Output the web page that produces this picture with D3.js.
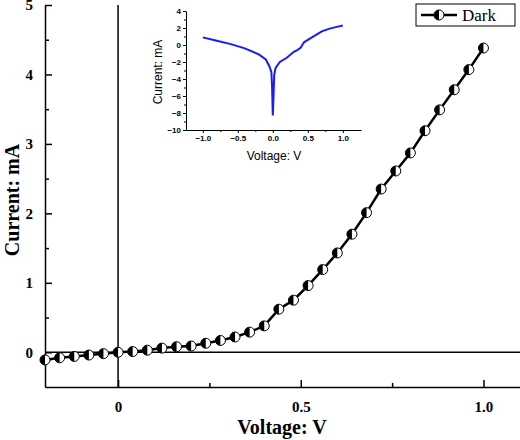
<!DOCTYPE html><html><head><meta charset="utf-8"><script src="https://cdn.jsdelivr.net/npm/d3@7"></script>
<style>body{margin:0;background:#fff}</style></head><body><svg id="c" width="520" height="440"></svg><script>
const darkV=[-0.2,-0.16,-0.12,-0.08,-0.04,0,0.04,0.08,0.12,0.16,0.2,0.24,0.28,0.32,0.36,0.4,0.44,0.48,0.52,0.56,0.6,0.64,0.68,0.72,0.76,0.8,0.84,0.88,0.92,0.96,1.0];
const darkI=[-0.11,-0.08,-0.06,-0.04,-0.02,0,0.01,0.03,0.06,0.08,0.09,0.13,0.17,0.22,0.29,0.38,0.62,0.75,0.96,1.19,1.43,1.70,2.01,2.35,2.61,2.87,3.19,3.49,3.78,4.07,4.38];
const insetV=[-1,-0.8,-0.6,-0.4,-0.2,-0.1,-0.05,-0.02,-0.01,0,0.01,0.02,0.04,0.1,0.2,0.3,0.35,0.4,0.42,0.45,0.5,0.6,0.7,0.8,0.9,1.0];
const insetI=[0.9,0.5,0.1,-0.4,-1.1,-1.7,-2.5,-3.2,-5,-8.3,-6,-3.5,-2.7,-2,-1.5,-0.8,-0.6,-0.3,0,0.35,0.6,1.1,1.6,1.9,2.1,2.3];
const xTicks=[0,0.5,1.0], xTickLabels=["0","0.5","1.0"];
const yTicks=[0,1,2,3,4,5];
const svg=d3.select("#c");
const tf="Times New Roman, Liberation Serif, serif";
const x=d3.scaleLinear().domain([-0.2,1.1]).range([45,520]);
const y=d3.scaleLinear().domain([-0.5,5]).range([387,5]);
const g=svg.append("g");
g.append("line").attr("x1",x(0)).attr("x2",x(0)).attr("y1",y(5)).attr("y2",y(-0.5)).attr("stroke","#000").attr("stroke-width",1.5);
g.append("line").attr("x1",45).attr("x2",520).attr("y1",y(0)).attr("y2",y(0)).attr("stroke","#000").attr("stroke-width",1.5);
g.append("g").attr("transform","translate(0,387)").call(d3.axisBottom(x).tickValues(xTicks).tickFormat((d,i)=>xTickLabels[i]).tickSizeInner(-7).tickSizeOuter(0).tickPadding(14));
g.append("g").attr("transform","translate(0,387)").call(d3.axisBottom(x).tickValues([0.25,0.75]).tickFormat("").tickSizeInner(-4).tickSizeOuter(0)).select(".domain").remove();
g.append("g").attr("transform","translate(45,0)").call(d3.axisLeft(y).tickValues(yTicks).tickFormat(d3.format("d")).tickSizeInner(-7).tickSizeOuter(0).tickPadding(12));
g.append("g").attr("transform","translate(45,0)").call(d3.axisLeft(y).tickValues([0.5,1.5,2.5,3.5,4.5]).tickFormat("").tickSizeInner(-4).tickSizeOuter(0)).select(".domain").remove();
g.selectAll(".domain,.tick line").attr("stroke","#000").attr("stroke-width",1.5);
g.selectAll(".tick text").attr("font-family",tf).attr("font-weight","bold").attr("font-size",15).attr("fill","#000");
svg.append("text").attr("x",282).attr("y",434).attr("text-anchor","middle").attr("font-family",tf).attr("font-weight","bold").attr("font-size",20).text("Voltage: V");
svg.append("text").attr("transform","translate(19,200) rotate(-90)").attr("text-anchor","middle").attr("font-family",tf).attr("font-weight","bold").attr("font-size",20).text("Current: mA");
const line=d3.line().x((d,i)=>x(darkV[i])).y(d=>y(d));
svg.append("path").datum(darkI).attr("d",line).attr("fill","none").attr("stroke","#000").attr("stroke-width",2.5);
function marker(sel,cx,cy){
  const r=5;
  sel.append("circle").attr("cx",cx).attr("cy",cy).attr("r",r).attr("fill","#fff").attr("stroke","#000").attr("stroke-width",1);
  sel.append("path").attr("d",`M${cx},${cy-r}A${r},${r} 0 0 0 ${cx},${cy+r}Z`).attr("fill","#000");
}
const mg=svg.append("g");
darkI.forEach((d,i)=>marker(mg,x(darkV[i]),y(d)));
svg.append("rect").attr("x",416).attr("y",4).attr("width",99).attr("height",22).attr("fill","#fff").attr("stroke","#000").attr("stroke-width",1);
svg.append("line").attr("x1",421).attr("x2",457).attr("y1",15).attr("y2",15).attr("stroke","#000").attr("stroke-width",2.5);
marker(svg,439,15);
svg.append("text").attr("x",462).attr("y",21).attr("font-family",tf).attr("font-size",17).text("Dark");
const ix=d3.scaleLinear().domain([-1.24,1.26]).range([186,361]);
const iy=d3.scaleLinear().domain([-10,4]).range([130,11]);
const ig=svg.append("g");
ig.append("g").attr("transform","translate(0,130)").call(d3.axisBottom(ix).tickValues([-1,-0.5,0,0.5,1]).tickFormat(d3.format(".1f")).tickSize(3).tickSizeOuter(0).tickPadding(2));
ig.append("g").attr("transform","translate(0,130)").call(d3.axisBottom(ix).tickValues([-0.75,-0.25,0.25,0.75]).tickFormat("").tickSize(2).tickSizeOuter(0)).select(".domain").remove();
ig.append("g").attr("transform","translate(186,0)").call(d3.axisLeft(iy).tickValues([-10,-8,-6,-4,-2,0,2,4]).tickSize(3).tickSizeOuter(0).tickPadding(2));
ig.append("g").attr("transform","translate(186,0)").call(d3.axisLeft(iy).tickValues([-9,-7,-5,-3,-1,1,3]).tickFormat("").tickSize(2).tickSizeOuter(0)).select(".domain").remove();
ig.selectAll(".domain,.tick line").attr("stroke","#000").attr("stroke-width",1);
ig.selectAll(".tick text").attr("font-family","Liberation Sans, Arial, sans-serif").attr("font-weight","bold").attr("font-size",8).attr("fill","#000");
ig.append("path").datum(insetI).attr("d",d3.line().x((d,i)=>ix(insetV[i])).y(d=>iy(d))).attr("fill","none").attr("stroke","#1a1aff").attr("stroke-width",2);
svg.append("text").attr("x",274).attr("y",160).attr("text-anchor","middle").attr("font-family","Liberation Sans, Arial, sans-serif").attr("font-size",12).text("Voltage: V");
svg.append("text").attr("transform","translate(162,72) rotate(-90)").attr("text-anchor","middle").attr("font-family","Liberation Sans, Arial, sans-serif").attr("font-size",12).text("Current: mA");
</script></body></html>
